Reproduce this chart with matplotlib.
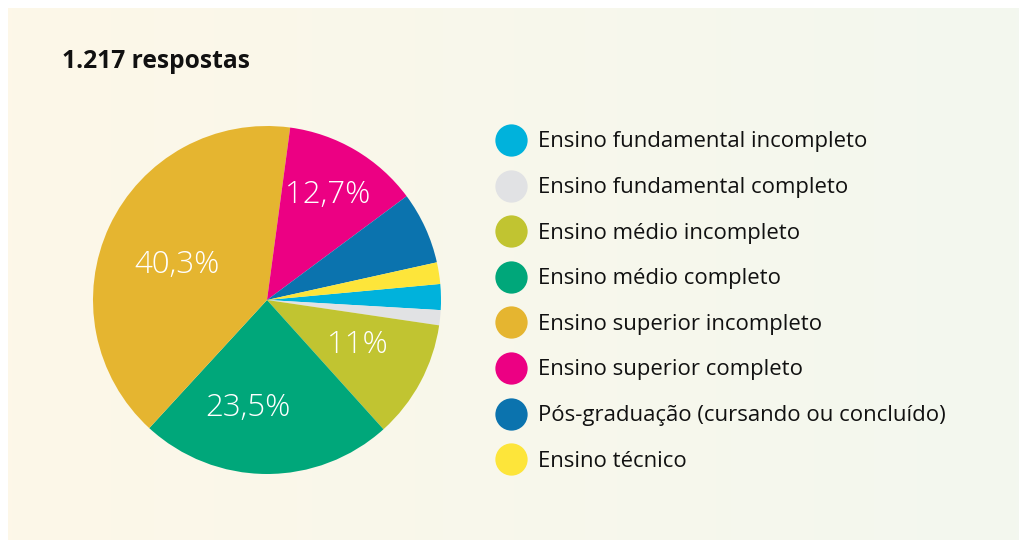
import matplotlib
matplotlib.use("Agg")
import matplotlib.pyplot as plt
import numpy as np
from matplotlib.colors import LinearSegmentedColormap

categorias = [
    "Ensino fundamental incompleto",
    "Ensino fundamental completo",
    "Ensino médio incompleto",
    "Ensino médio completo",
    "Ensino superior incompleto",
    "Ensino superior completo",
    "Pós-graduação (cursando ou concluído)",
    "Ensino técnico",
]
percentuais = [2.4, 1.4, 11.0, 23.5, 40.3, 12.7, 6.7, 2.0]
cores = ["#00b2dc", "#e1e2e4", "#c1c431", "#00a77a",
         "#e5b530", "#ec0083", "#0b73ae", "#fde53a"]
titulo = "1.217 respostas"

# onde ficam os rótulos dentro das fatias (fração do raio, desvio em graus)
rotulo_dist = [0, 0, 0.58, 0.63, 0.555, 0.70, 0, 0]
rotulo_desvio = [0, 0, 1.5, -9.5, 4, 0.5, 0, 0]

fig = plt.figure(figsize=(10.2, 5.4), dpi=100)
fig.patch.set_facecolor("white")

# fundo com degradê
bg = fig.add_axes([8 / 1020, 0, 1 - 8 / 1020, 1 - 8 / 540])
bg.axis("off")
grad = LinearSegmentedColormap.from_list("bg", ["#fdf7e8", "#f3f7ef"])
bg.imshow(np.linspace(0, 1, 256).reshape(1, -1), cmap=grad, aspect="auto",
          extent=[0, 1, 0, 1])
bg.set_xlim(0, 1)
bg.set_ylim(0, 1)

fig.text(62 / 1020, 1 - 68 / 540, titulo, fontsize=17.7, fontweight="bold",
         family="Open Sans", color="#111111", va="baseline")


def rotulo(p):
    s = f"{p:.1f}".replace(".", ",")
    if s.endswith(",0"):
        s = s[:-2]
    return s + "%"


ax = fig.add_axes([93 / 1020, 66 / 540, 348 / 1020, 348 / 540])
wedges, textos = ax.pie(
    percentuais, colors=cores, startangle=5.3, counterclock=False,
    wedgeprops=dict(linewidth=0), radius=1,
)
for w, p, d, off in zip(wedges, percentuais, rotulo_dist, rotulo_desvio):
    if p < 10:
        continue
    ang = np.deg2rad((w.theta1 + w.theta2) / 2 + off)
    ax.text(d * np.cos(ang), d * np.sin(ang), rotulo(p), color="white",
            fontsize=22.5, family="Open Sans", fontweight="light",
            ha="center", va="center")
ax.set_xlim(-1, 1)
ax.set_ylim(-1, 1)
ax.set_aspect("equal")
ax.axis("off")

# legenda manual
lg = fig.add_axes([0, 0, 1, 1])
lg.set_xlim(0, 1020)
lg.set_ylim(540, 0)
lg.axis("off")
for i, (nome, cor) in enumerate(zip(categorias, cores)):
    y = 140 + i * 45.6
    lg.scatter([511], [y], s=540, color=cor, linewidths=0)
    lg.text(538, y + 2, nome, fontsize=15.9, family="Open Sans",
            va="center", ha="left", color="#111111")

fig.savefig("out.png", dpi=100)
